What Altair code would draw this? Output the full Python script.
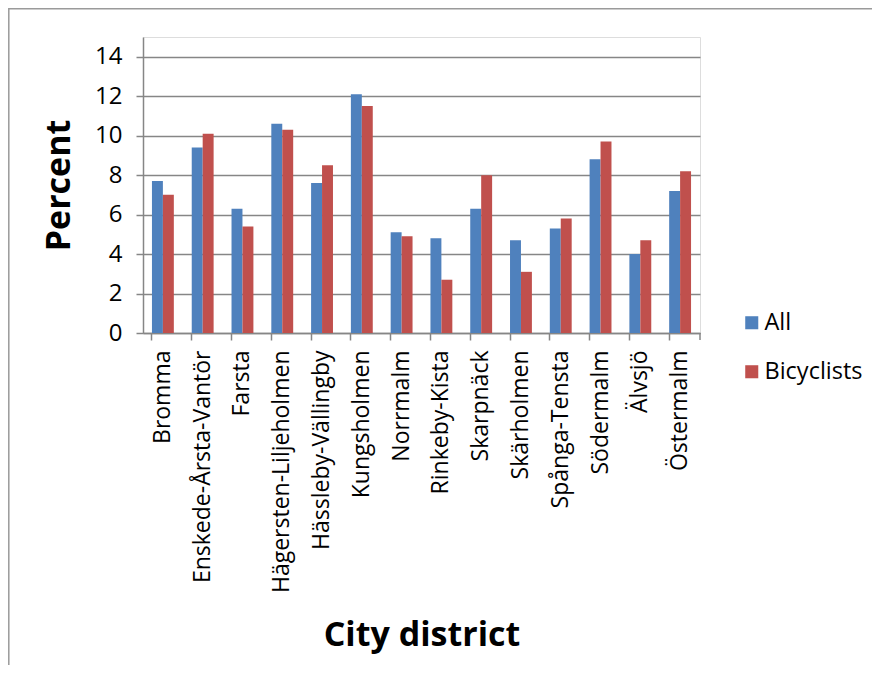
import altair as alt
import pandas as pd

districts = ["Bromma", "Enskede-Årsta-Vantör", "Farsta", "Hägersten-Liljeholmen",
             "Hässleby-Vällingby", "Kungsholmen", "Norrmalm", "Rinkeby-Kista",
             "Skarpnäck", "Skärholmen", "Spånga-Tensta", "Södermalm", "Älvsjö", "Östermalm"]
all_vals = [7.7, 9.4, 6.3, 10.6, 7.6, 12.1, 5.1, 4.8, 6.3, 4.7, 5.3, 8.8, 4.0, 7.2]
bic_vals = [7.0, 10.1, 5.4, 10.3, 8.5, 11.5, 4.9, 2.7, 8.0, 3.1, 5.8, 9.7, 4.7, 8.2]
series = ["All", "Bicyclists"]
colors = ["#4F81BD", "#C0504D"]
y_ticks = [0, 2, 4, 6, 8, 10, 12, 14]

rows = []
for d, a, b in zip(districts, all_vals, bic_vals):
    rows.append({"district": d, "series": series[0], "value": a})
    rows.append({"district": d, "series": series[1], "value": b})
df = pd.DataFrame(rows)

W, H = 557, 296
FONT = "Open Sans"

bars = alt.Chart(df).mark_bar().encode(
    x=alt.X("district:N", sort=districts,
            scale=alt.Scale(paddingInner=0.45, paddingOuter=0.225),
            axis=alt.Axis(title="City district", labelAngle=-90, labelAlign="right",
                          labelBaseline="middle", labelFontSize=23, labelPadding=10,
                          labelColor="#000", labelFont=FONT, labelLimit=0,
                          bandPosition=0, tickSize=7, tickColor="#868686",
                          domainColor="#868686", domainWidth=1.5, tickWidth=1.5,
                          titleFontSize=34, titleFont=FONT, titleFontWeight="bold",
                          titleColor="#000", titleY=312, titleBaseline="alphabetic",
                          grid=False)),
    xOffset=alt.XOffset("series:N", sort=series),
    y=alt.Y("value:Q", scale=alt.Scale(domain=[0, 15], nice=False),
            axis=alt.Axis(title="Percent", values=y_ticks, labelFontSize=24,
                          labelFont=FONT, labelColor="#000", labelPadding=14,
                          tickSize=7, tickColor="#868686", tickWidth=1.5,
                          domainColor="#868686", domainWidth=1.5,
                          gridColor="#868686", gridWidth=1.5,
                          titleFontSize=34, titleFont=FONT, titleFontWeight="bold",
                          titleColor="#000", titlePadding=18)),
    color=alt.Color("series:N", sort=series,
                    scale=alt.Scale(domain=series, range=colors),
                    legend=alt.Legend(title=None, orient="none", legendX=597, legendY=274,
                                      symbolType="square", symbolSize=170,
                                      symbolStrokeWidth=0, labelFontSize=23.5,
                                      labelFont=FONT, labelColor="#000",
                                      rowPadding=24, padding=0, labelOffset=1)),
)

frame_df = pd.DataFrame({"k": [0]})
frame = alt.Chart(frame_df).mark_rect(fill=None, stroke="#9a9a9a", strokeWidth=1.5).encode(
    x=alt.value(-134.2), x2=alt.value(734), y=alt.value(-28.2), y2=alt.value(700)
)
end_tick = alt.Chart(frame_df).mark_rule(color="#868686", strokeWidth=1.5).encode(
    x=alt.value(W), y=alt.value(H), y2=alt.value(H + 7)
)

chart = alt.layer(frame, bars, end_tick).properties(
    width=W, height=H,
    autosize=alt.AutoSizeParams(type="none"),
    padding={"left": 135, "top": 29, "right": 172, "bottom": 332},
).configure_view(stroke=None).configure(background="white")

chart.save("out.html", embed_options={"renderer": "svg", "actions": False})
